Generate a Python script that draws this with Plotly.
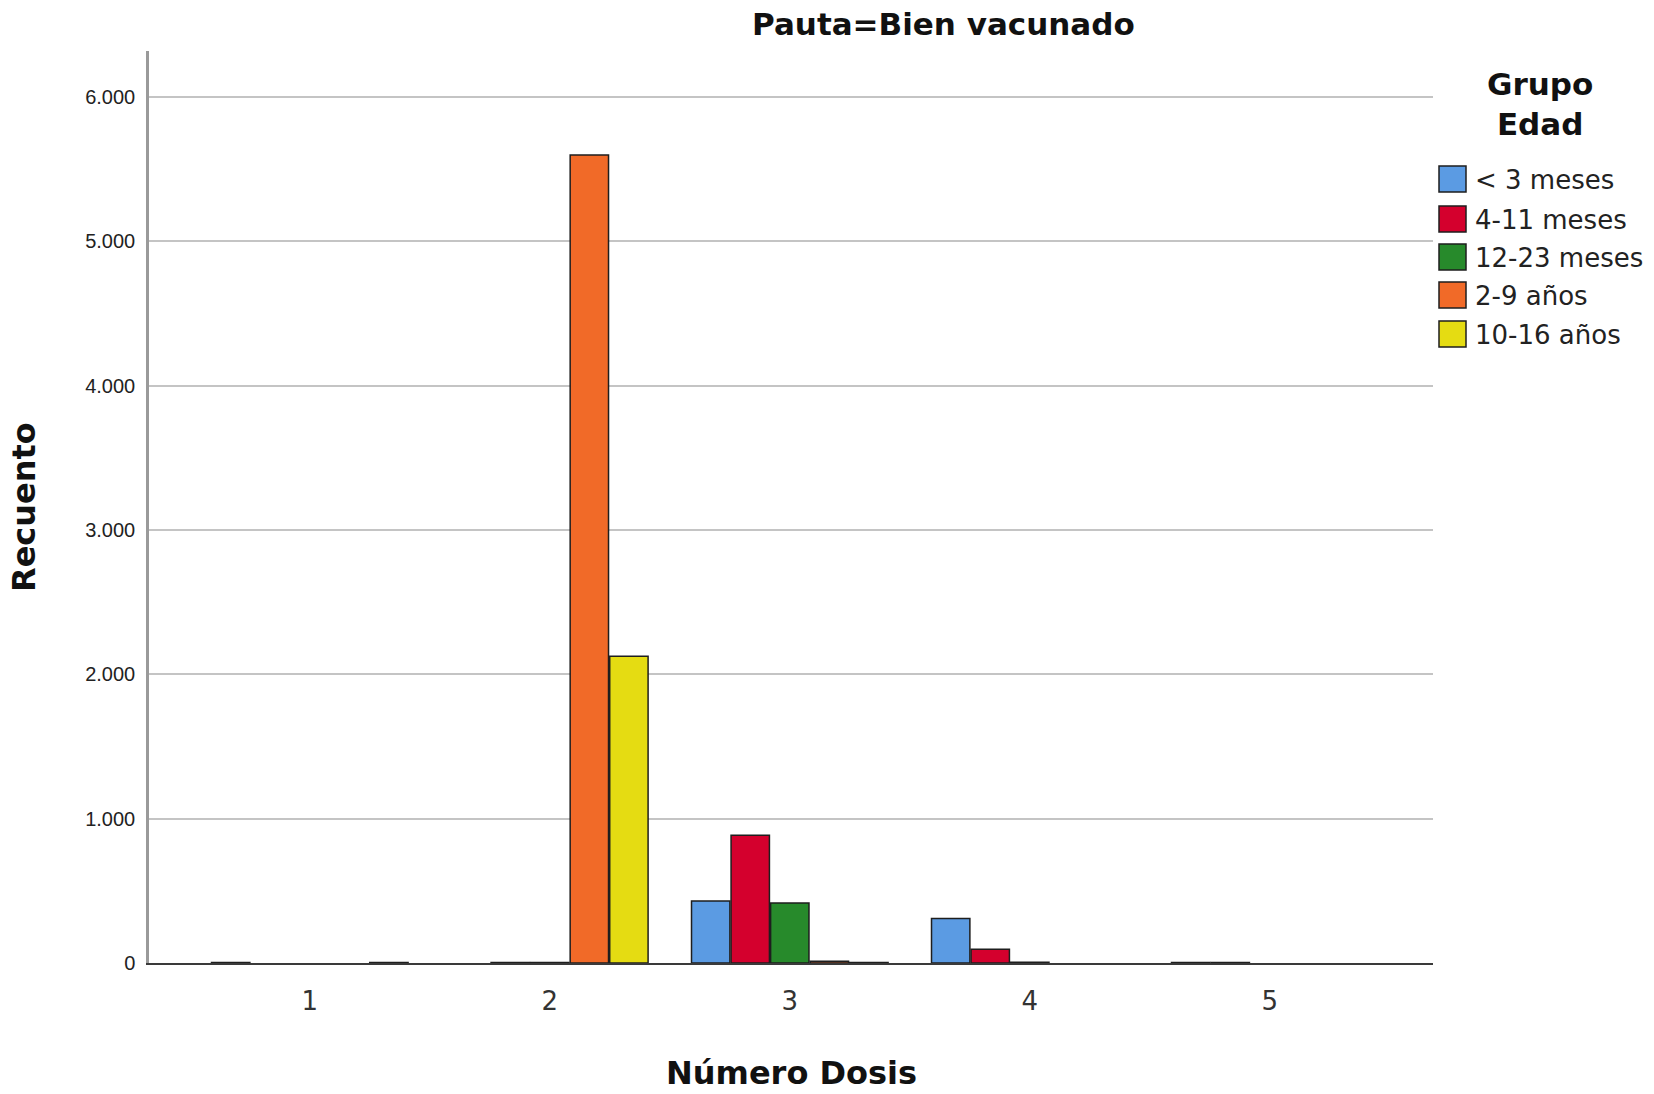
import plotly.graph_objects as go

# ---- data ----
doses = [1, 2, 3, 4, 5]
groups = ["< 3 meses", "4-11 meses", "12-23 meses", "2-9 años", "10-16 años"]
colors = ["#5b9be3", "#d4002d", "#278a2b", "#f16a28", "#e5dc12"]
# None = no cases (no bar drawn)
v_lt3m = [4, None, 430, 308, 4]
v_4_11m = [None, 3, 885, 95, 4]
v_12_23m = [None, 4, 415, 5, None]
v_2_9a = [None, 5600, 12, None, None]
v_10_16a = [3, 2125, 4, None, None]
series = [v_lt3m, v_4_11m, v_12_23m, v_2_9a, v_10_16a]
y_ticks = [0, 1000, 2000, 3000, 4000, 5000, 6000]

FONT = "DejaVu Sans"
TICKFONT = "Liberation Sans"
W, H = 1654, 1094
L, R, T, B = 149, 1433, 51, 963  # plot area in px

def px(xp):
    return (xp - L) / (R - L)

def py(yp):
    return (B - yp) / (B - T)

fig = go.Figure()
for name, col, vals in zip(groups, colors, series):
    fig.add_trace(go.Bar(
        x=doses, y=vals, name=name,
        marker=dict(color=col, line=dict(color="#1e1e1e", width=1.5)),
        showlegend=False,
    ))

fig.update_layout(
    width=W, height=H,
    margin=dict(l=L, r=W - R, t=T, b=H - B),
    paper_bgcolor="white", plot_bgcolor="white",
    barmode="group", bargap=0.176, bargroupgap=0.03,
    separators=",.",
    font=dict(family=FONT, color="#222"),
    showlegend=False,
)

fig.update_xaxes(
    automargin=False,
    range=[0.33, 5.68], tickmode="array", tickvals=doses,
    ticktext=[str(d) for d in doses],
    tickfont=dict(size=26, color="#333"),
    showgrid=False, zeroline=False,
    showline=True, linecolor="#3a3a3a", linewidth=2,
    ticks="", ticklabelstandoff=14,
)
fig.update_yaxes(
    automargin=False,
    range=[0, 6320], tickmode="array", tickvals=y_ticks, tickformat=",d",
    tickfont=dict(size=20, color="#222", family=TICKFONT),
    showgrid=True, gridcolor="#c4c4c4", gridwidth=1.5,
    zeroline=False,
    showline=True, linecolor="#9a9a9a", linewidth=2.5,
    ticks="", ticklabelstandoff=7,
)

# axis titles
fig.add_annotation(
    text="<b>Número Dosis</b>", xref="paper", yref="paper",
    x=px(791), y=py(1073), xanchor="center", yanchor="middle",
    showarrow=False, font=dict(size=32, color="#111", family=FONT),
)
fig.add_annotation(
    text="<b>Recuento</b>", xref="paper", yref="paper",
    x=px(24), y=py(507), xanchor="center", yanchor="middle", textangle=-90,
    showarrow=False, font=dict(size=32, color="#111", family=FONT),
)

# chart title
fig.add_annotation(
    text="<b>Pauta=Bien vacunado</b>", xref="paper", yref="paper",
    x=px(943), y=py(24), xanchor="center", yanchor="middle",
    showarrow=False, font=dict(size=31, color="#111", family=FONT),
)

# legend (drawn manually for SPSS-like large swatches)
fig.add_annotation(
    text="<b>Grupo<br>Edad</b>", xref="paper", yref="paper",
    x=px(1540), y=py(104), xanchor="center", yanchor="middle",
    showarrow=False, align="center",
    font=dict(size=31, color="#111", family=FONT),
)
item_y = [179, 219, 257, 295, 334]
for name, col, yc in zip(groups, colors, item_y):
    fig.add_shape(
        type="rect", xref="paper", yref="paper",
        x0=px(1439), x1=px(1466), y0=py(yc + 13), y1=py(yc - 13),
        fillcolor=col, line=dict(color="#1e1e1e", width=1.5),
    )
    fig.add_annotation(
        text=name, xref="paper", yref="paper",
        x=px(1473), y=py(yc + 1), xanchor="left", yanchor="middle",
        showarrow=False, font=dict(size=26, color="#222", family=FONT),
    )

fig.write_html(
    "out.html",
    config={"displayModeBar": False},
    post_script="document.body.style.margin='0';document.body.style.overflow='hidden';",
)
